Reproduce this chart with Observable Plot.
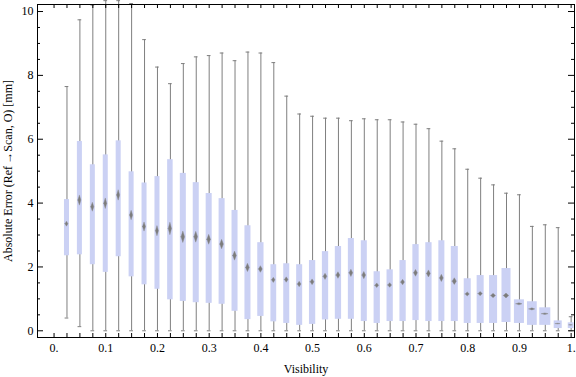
<!DOCTYPE html>
<html><head><meta charset="utf-8">
<script src="https://cdn.jsdelivr.net/npm/d3@7"></script>
<script src="https://cdn.jsdelivr.net/npm/@observablehq/plot@0.6"></script>
<style>body{margin:0;background:#fff}</style>
</head><body><div id="chart"></div>
<script>
const visibility = [0.025,0.05,0.075,0.1,0.125,0.15,0.175,0.2,0.225,0.25,0.275,0.3,0.325,0.35,0.375,0.4,0.425,0.45,0.475,0.5,0.525,0.55,0.575,0.6,0.625,0.65,0.675,0.7,0.725,0.75,0.775,0.8,0.825,0.85,0.875,0.9,0.925,0.95,0.975,1.0];
const whiskerLow = [0.40,0.13,0,0,0,0,0,0,0,0,0,0,0,0,0,0,0,0,0,0,0,0,0,0,0,0,0,0,0,0,0,0,0,0,0,0,0,0,0,0];
const q1 = [2.35,2.38,2.07,1.83,2.32,1.69,1.44,1.30,0.97,0.92,0.88,0.86,0.83,0.61,0.35,0.45,0.28,0.23,0.17,0.20,0.34,0.36,0.36,0.29,0.23,0.29,0.29,0.32,0.29,0.29,0.29,0.23,0.23,0.23,0.26,0.23,0.17,0.17,0.07,0.07];
const median = [3.34,4.08,3.87,3.98,4.24,3.61,3.25,3.12,3.19,2.93,2.93,2.85,2.70,2.34,1.97,1.92,1.58,1.59,1.45,1.52,1.69,1.73,1.80,1.73,1.41,1.42,1.51,1.80,1.78,1.64,1.54,1.14,1.15,1.09,1.09,0.83,0.67,0.52,0.21,0.17];
const q3 = [4.11,5.93,5.20,5.51,5.95,4.98,4.63,4.83,5.36,4.93,4.64,4.30,4.14,3.77,3.29,2.76,2.07,2.10,2.07,2.20,2.48,2.64,2.89,2.82,1.85,1.91,2.20,2.70,2.76,2.82,2.64,1.63,1.73,1.73,1.95,0.97,0.91,0.72,0.31,0.25];
const whiskerHigh = [7.65,9.74,10.20,10.34,10.34,10.25,9.12,8.26,7.74,8.37,8.58,8.62,8.70,8.46,8.73,8.70,8.40,7.35,6.79,6.72,6.66,6.66,6.58,6.64,6.61,6.61,6.54,6.47,6.33,5.94,5.70,5.06,4.78,4.57,4.31,4.26,3.27,3.32,3.23,0.44];
// relative box width
const relWidth = [1,1,1,1,1,1,1,1,1.1,1.2,1.2,1.2,1.2,1.2,1.2,1.25,1.15,1.2,1.2,1.25,1.25,1.25,1.2,1.2,1.25,1.25,1.25,1.25,1.25,1.2,1.4,1.4,1.4,1.6,1.8,2.0,1.95,2.2,1.6,1.15];

const xLabelTicks = [0,0.1,0.2,0.3,0.4,0.5,0.6,0.7,0.8,0.9,1];
const xTickLabels = ["0.","0.1","0.2","0.3","0.4","0.5","0.6","0.7","0.8","0.9","1."];
const yMajorTicks = [0,2,4,6,8,10];
const yTickLabels = ["0","2","4","6","8","10"];
const yMinorTicks = [0.5,1,1.5,2.5,3,3.5,4.5,5,5.5,6.5,7,7.5,8.5,9,9.5];
const xLabel = "Visibility";
const yLabel = "Absolute Error (Ref\u2009\u2192Scan, O) [mm]";

const W = 576, H = 377, mL = 37, mR = 2, mT = 4, mB = 40;
const plotW = W - mL - mR, plotH = H - mT - mB;
const BASE_W = 0.0097;   // box width unit in x-units (~5px)
const CAP = 0.0036;      // cap half-width in x-units

const data = visibility.map((v, i) => ({vis: v, lo: whiskerLow[i], q1: q1[i], med: median[i], q3: q3[i], hi: whiskerHigh[i], w: relWidth[i]}));
const diamonds = data.flatMap((d, i) => {
  const hw = d.w * BASE_W * 0.3;
  const hh = Math.max(0.045 * (d.q3 - d.q1), 0.012);
  return [
    {id: i, x: d.vis - hw, y1: d.med, y2: d.med},
    {id: i, x: d.vis, y1: d.med - hh, y2: d.med + hh},
    {id: i, x: d.vis + hw, y1: d.med, y2: d.med}
  ];
});
const xTickPositions = [0, ...visibility];
const xLabMap = new Map(xLabelTicks.map((t, i) => [t, xTickLabels[i]]));
const yLabMap = new Map(yMajorTicks.map((t, i) => [t, yTickLabels[i]]));

const chart = Plot.plot({
  width: W, height: H,
  marginLeft: mL, marginRight: mR, marginTop: mT, marginBottom: mB,
  x: {domain: [-0.032, 1.0065], axis: null},
  y: {domain: [-0.21, 10.22], axis: null},
  style: {fontFamily: "'Liberation Serif','DejaVu Serif',serif", fontSize: "12px", background: "#fff", color: "#000"},
  marks: [
    Plot.ruleX(data, {x: "vis", y1: "lo", y2: "hi", stroke: "#7f7f7f", strokeWidth: 1}),
    Plot.ruleY(data, {y: "hi", x1: d => d.vis - CAP, x2: d => d.vis + CAP, stroke: "#7f7f7f", strokeWidth: 1}),
    Plot.ruleY(data, {y: "lo", x1: d => d.vis - CAP, x2: d => d.vis + CAP, stroke: "#7f7f7f", strokeWidth: 1}),
    Plot.rect(data, {x1: d => d.vis - d.w * BASE_W / 2, x2: d => d.vis + d.w * BASE_W / 2, y1: "q1", y2: "q3", fill: "#cbd1f4"}),
    Plot.areaY(diamonds, {x: "x", y1: "y1", y2: "y2", z: "id", fill: "#7c7c7c", stroke: "#8a8a8a", strokeWidth: 0.4, curve: "linear"}),
    Plot.frame({stroke: "#000", strokeWidth: 1}),
    Plot.ruleX(xTickPositions, {insetTop: plotH - 4, stroke: "#000"}),
    Plot.ruleX(xTickPositions, {insetBottom: plotH - 4, stroke: "#000"}),
    Plot.ruleY(yMajorTicks, {insetRight: plotW - 6, stroke: "#000"}),
    Plot.ruleY(yMajorTicks, {insetLeft: plotW - 6, stroke: "#000"}),
    Plot.ruleY(yMinorTicks, {insetRight: plotW - 3, stroke: "#000"}),
    Plot.ruleY(yMinorTicks, {insetLeft: plotW - 3, stroke: "#000"}),
    Plot.axisX(xLabelTicks, {anchor: "bottom", tickSize: 0, tickPadding: 6, tickFormat: d => xLabMap.get(d), label: null, fontSize: 12}),
    Plot.axisY(yMajorTicks, {anchor: "left", tickSize: 0, tickPadding: 4, tickFormat: d => yLabMap.get(d), label: null, fontSize: 12}),
    Plot.text([xLabel], {text: d => d, frameAnchor: "bottom", dy: 32, textAnchor: "middle", lineAnchor: "middle", fontSize: 12}),
    Plot.text([yLabel], {text: d => d, frameAnchor: "left", dx: -29, rotate: -90, textAnchor: "middle", lineAnchor: "middle", fontSize: 12})
  ]
});
document.getElementById("chart").appendChild(chart);
</script>
</body></html>
